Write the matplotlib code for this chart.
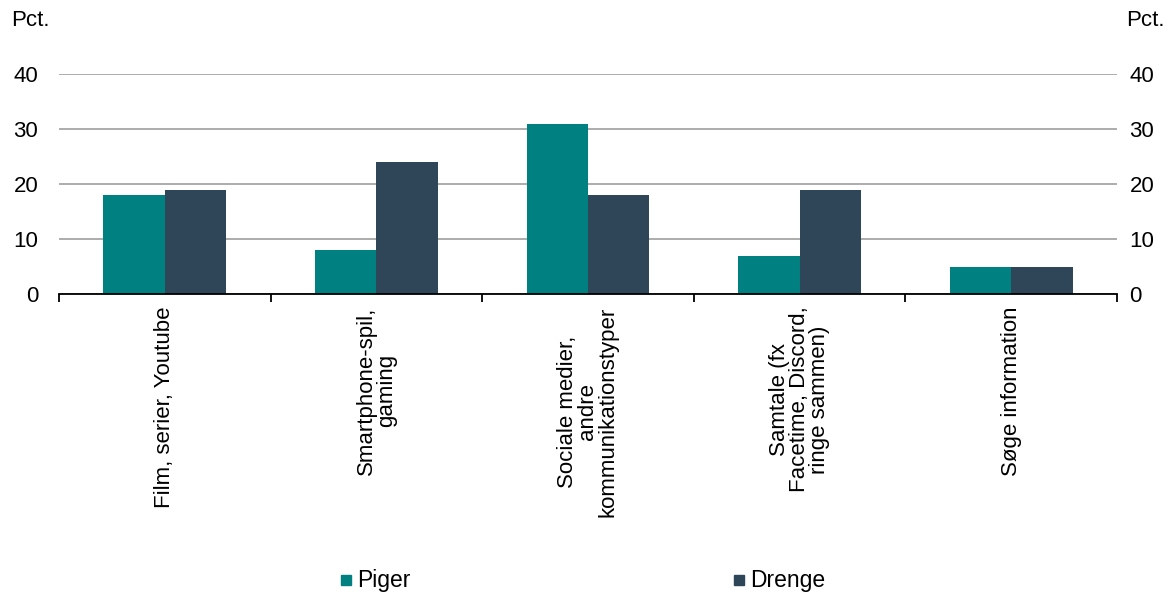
import matplotlib
matplotlib.use("Agg")
import matplotlib.pyplot as plt
import numpy as np
from matplotlib.lines import Line2D

plt.rcParams['font.family'] = ['Liberation Sans', 'DejaVu Sans']

categories = ["Film, serier, Youtube",
              "Smartphone-spil,\ngaming",
              "Sociale medier,\nandre\nkommunikationstyper",
              "Samtale (fx\nFacetime, Discord,\nringe sammen)",
              "Søge information"]
piger = [18, 8, 31, 7, 5]
drenge = [19, 24, 18, 19, 5]
yticks = [0, 10, 20, 30, 40]
series_names = ["Piger", "Drenge"]

c_piger = "#008080"
c_drenge = "#2F4558"
fs = 16

fig = plt.figure(figsize=(11.73, 5.94), dpi=100)
ax = fig.add_axes([59/1173, 1-294/594, (1117-59)/1173, 220/594])

x = np.arange(len(categories))
w = 0.29
ax.bar(x - w/2, piger, w, color=c_piger, zorder=3)
ax.bar(x + w/2, drenge, w, color=c_drenge, zorder=3)

ax.set_xlim(-0.5, len(categories) - 0.5)
ax.set_ylim(0, 40)
ax.set_yticks(yticks)
ax.yaxis.grid(True, color="#A6A6A6", linewidth=1.3, zorder=0)
ax.tick_params(axis='y', length=0, labelsize=fs, pad=15)
for s in ['left', 'right', 'top']:
    ax.spines[s].set_visible(False)
ax.spines['bottom'].set_linewidth(1.3)
ax.spines['bottom'].set_zorder(4)

ax2 = ax.twinx()
ax2.set_ylim(0, 40)
ax2.set_yticks(yticks)
ax2.tick_params(axis='y', length=0, labelsize=fs, pad=9)
for s in ['left', 'right', 'top', 'bottom']:
    ax2.spines[s].set_visible(False)

ax.set_xticks(x)
ax.set_xticklabels(categories, rotation=90, fontsize=fs, va='top', ha='center',
                   multialignment='center', linespacing=0.95)
ax.tick_params(axis='x', which='major', length=0, pad=9)
ax.set_xticks(np.arange(-0.5, len(categories)), minor=True)
ax.tick_params(axis='x', which='minor', length=6, width=1.3, direction='out')

fig.text(11/1173, 1-20/594, "Pct.", fontsize=fs, ha='left', va='center')
fig.text(1126/1173, 1-20/594, "Pct.", fontsize=fs, ha='left', va='center')

# legend
for name, col, xp in [(series_names[0], c_piger, 346), (series_names[1], c_drenge, 739)]:
    fig.add_artist(Line2D([xp/1173], [1-580/594], marker='s', markersize=7,
                          color=col, linestyle='none', transform=fig.transFigure))
    fig.text((xp+11)/1173, 1-580/594, name, fontsize=fs + 0.5, ha='left', va='center')

fig.savefig("out.png", dpi=100)
